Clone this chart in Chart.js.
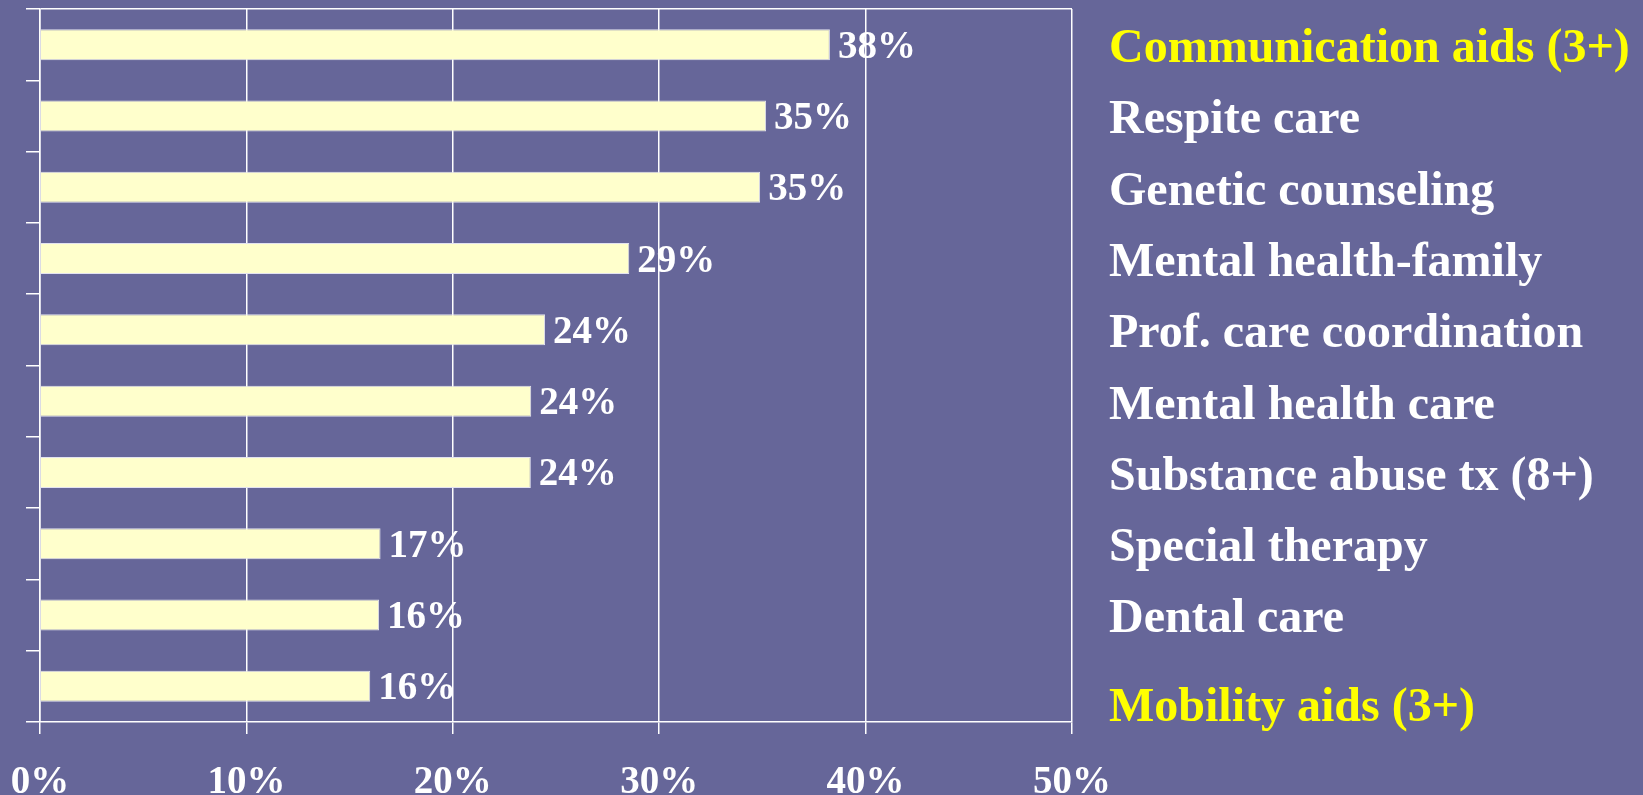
<!DOCTYPE html>
<html>
<head>
<meta charset="utf-8">
<script src="https://cdn.jsdelivr.net/npm/chart.js@4"></script>
<style>
  html, body { margin: 0; padding: 0; background: #666699; }
  #wrap { width: 1643px; height: 795px; position: relative; }
</style>
</head>
<body>
<div id="wrap"><canvas id="services"></canvas></div>
<script>
const categories = [
  'Communication aids (3+)',
  'Respite care',
  'Genetic counseling',
  'Mental health-family',
  'Prof. care coordination',
  'Mental health care',
  'Substance abuse tx (8+)',
  'Special therapy',
  'Dental care',
  'Mobility aids (3+)',
];
const unmetNeed = [38.27, 35.18, 34.89, 28.55, 24.47, 23.8, 23.78, 16.5, 16.43, 16.0];
const valueLabels = ['38%', '35%', '35%', '29%', '24%', '24%', '24%', '17%', '16%', '16%'];
const highlighted = [0, 9];
const xTicks = [0, 10, 20, 30, 40, 50];

const serif = '"Liberation Serif", "Times New Roman", serif';
const white = '#ffffff';
const yellow = '#ffff00';

// zero the label overflow padding so the plot area sits where the slide had it
function noPadding(scale) {
  scale.paddingTop = 0;
  scale.paddingBottom = 0;
  scale.paddingLeft = 0;
  scale.paddingRight = 0;
}

const valueLabelPlugin = {
  id: 'valueLabels',
  afterDatasetsDraw(chart) {
    const ctx = chart.ctx;
    const meta = chart.getDatasetMeta(0);
    ctx.save();
    ctx.font = 'bold 39px ' + serif;
    ctx.fillStyle = white;
    ctx.textAlign = 'left';
    ctx.textBaseline = 'alphabetic';
    meta.data.forEach((bar, i) => {
      ctx.fillText(valueLabels[i], bar.x + 8, bar.y + 13);
    });
    ctx.restore();
  }
};

new Chart(document.getElementById('services'), {
  type: 'bar',
  data: {
    labels: categories,
    datasets: [{
      data: unmetNeed,
      backgroundColor: '#ffffcc',
      borderColor: '#e2e2f0',
      borderWidth: 1,
      barPercentage: 0.435,
      categoryPercentage: 1,
      yAxisID: 'y',
    }],
  },
  options: {
    indexAxis: 'y',
    responsive: true,
    maintainAspectRatio: false,
    animation: false,
    layout: { padding: { left: 26, top: 9, right: 0, bottom: 0 } },
    plugins: {
      legend: { display: false },
      tooltip: { enabled: false },
    },
    scales: {
      x: {
        type: 'linear',
        min: xTicks[0],
        max: xTicks[xTicks.length - 1],
        afterBuildTicks: (scale) => {
          scale.ticks = xTicks.map(v => ({ value: v }));
        },
        afterFit: (scale) => {
          scale.height = 73;
          noPadding(scale);
        },
        grid: {
          color: white,
          lineWidth: 1.5,
          tickLength: 12,
          tickColor: white,
        },
        border: { display: true, color: white, width: 1.5 },
        ticks: {
          color: white,
          padding: 26,
          maxRotation: 0,
          font: { family: serif, size: 39, weight: 'bold' },
          callback: (v) => v + '%',
        },
      },
      y: {
        type: 'category',
        position: 'left',
        offset: true,
        afterFit: (scale) => {
          scale.width = 14;
          noPadding(scale);
        },
        grid: {
          offset: true,
          drawOnChartArea: true,
          color: (ctx) => ctx.index === 0 ? white : 'rgba(0,0,0,0)',
          tickColor: white,
          lineWidth: 1.5,
          tickLength: 14,
        },
        border: { display: true, color: white, width: 1.5 },
        ticks: { display: false },
      },
      y2: {
        type: 'category',
        position: 'right',
        labels: categories,
        offset: true,
        afterFit: (scale) => {
          scale.width = 571;
          noPadding(scale);
        },
        grid: { display: false },
        border: { display: false },
        ticks: {
          autoSkip: false,
          padding: 29,
          color: (ctx) => highlighted.includes(ctx.index) ? yellow : white,
          // an empty first line nudges each label down; the last one sits lower on the slide
          font: (ctx) => ({
            family: serif,
            size: 48,
            weight: 'bold',
            lineHeight: ctx.index === categories.length - 1 ? '44px' : '10px',
          }),
          callback: (v, i) => ['', categories[i]],
        },
      },
    },
  },
  plugins: [valueLabelPlugin],
});
</script>
</body>
</html>
